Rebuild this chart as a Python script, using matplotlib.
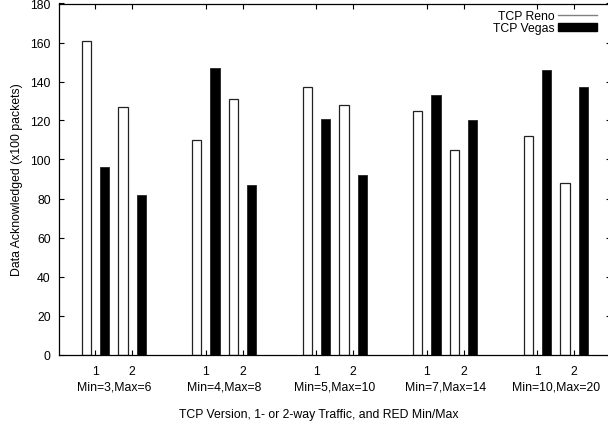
import matplotlib
matplotlib.use("Agg")
import matplotlib.pyplot as plt
import matplotlib.transforms as mtransforms
from matplotlib.lines import Line2D
from matplotlib.patches import Patch
import numpy as np

plt.rcParams['font.family'] = ['Liberation Sans', 'DejaVu Sans']

groups = ["Min=3,Max=6", "Min=4,Max=8", "Min=5,Max=10", "Min=7,Max=14", "Min=10,Max=20"]
traffic = ["1", "2"]
reno = [161, 127, 110, 131, 137, 128, 125, 105, 112, 88]
vegas = [96, 82, 147, 87, 121, 92, 133, 120, 146, 137]

# positions: 1,2, 4,5, 7,8, ...
pos = []
for g in range(len(groups)):
    for t in range(len(traffic)):
        pos.append(1 + 3 * g + t)
pos = np.array(pos, dtype=float)

FS = 8.8

fig = plt.figure(figsize=(6.08, 4.27), dpi=100)
ax = fig.add_axes([58.5 / 608, 1 - 355.5 / 427, (611 - 58.5) / 608, (355.5 - 4.5) / 427])

w = 0.25
ax.bar(pos - w, reno, width=w, color='white', edgecolor='#222222', linewidth=0.9)
ax.bar(pos + w, vegas, width=w, color='black', edgecolor='#222222', linewidth=0.6)

ax.set_xlim(0, 15)
ax.set_ylim(0, 180)
ax.set_yticks(np.arange(0, 181, 20))
ax.set_xticks(pos)
ax.set_xticklabels(traffic * len(groups))

for s in ax.spines.values():
    s.set_linewidth(0.9)
ax.tick_params(direction='in', length=3.5, width=0.8, top=True, right=True,
               labelsize=FS, pad=5.5)
ax.tick_params(axis='x', pad=7.5)

trans = mtransforms.blended_transform_factory(ax.transData, ax.transAxes)
for g, name in enumerate(groups):
    xc = pos[2 * g:2 * g + 2].mean()
    ax.text(xc, -32 / 351, name, transform=trans, ha='center', va='center', fontsize=FS)

ax.set_ylabel("Data Acknowledged (x100 packets)", fontsize=FS, labelpad=5)
fig.text(319 / 608, 1 - 415 / 427, "TCP Version, 1- or 2-way Traffic, and RED Min/Max",
         ha='center', va='center', fontsize=FS)

handles = [Line2D([0], [0], color='#808080', linewidth=1.0),
           Patch(facecolor='black', edgecolor='black')]
leg = ax.legend(handles, ["TCP Reno", "TCP Vegas"], loc='upper right',
                bbox_to_anchor=(597 / 608, 1 - 11 / 427), bbox_transform=fig.transFigure,
                frameon=False, markerfirst=False, fontsize=FS, handlelength=3.2,
                handleheight=0.65, handletextpad=0.3, labelspacing=0.0,
                borderpad=0, borderaxespad=0)
for t in leg.get_texts():
    t.set_ha('right')

fig.savefig("out.png", dpi=100)
